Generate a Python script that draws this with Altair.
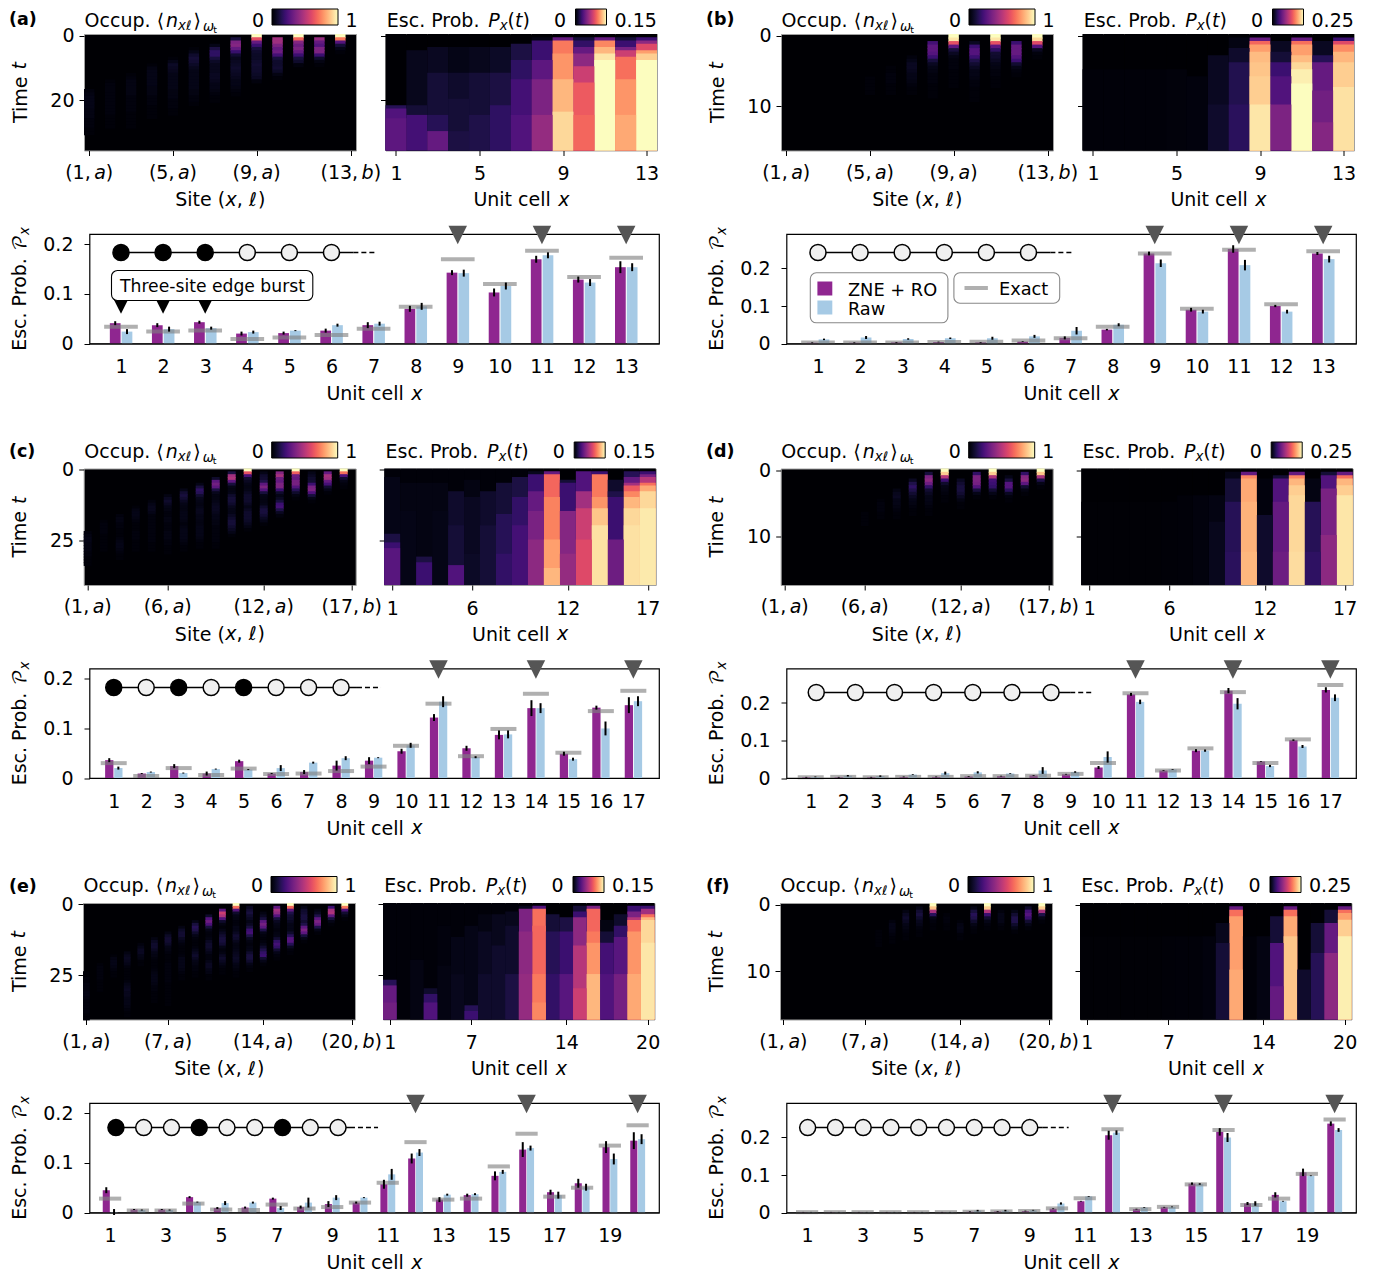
import altair as alt
import pandas as pd

FONT = "DejaVu Sans"
FS = 19
SUB = 13.3
PURPLE = "#8f2690"
BLUE = "#a6cae5"
TRI = "#555555"
HEAT_H, OCC_W, ESC_W, BAR_W, BAR_H = 116.5, 272, 271.5, 569.5, 109.5

# ---------------- bar chart values ----------------
zne_a = [.041, .037, .043, .020, .021, .026, .037, .070, .143, .103, .170, .129, .154]
raw_a = [.024, .029, .031, .023, .026, .037, .040, .075, .142, .116, .178, .123, .154]
exa_a = [.034, .024, .026, .009, .012, .017, .030, .074, .170, .120, .187, .134, .173]
ez_a = [.004, .004, .003, .004, .003, .004, .006, .006, .005, .008, .007, .006, .012]
er_a = [.005, .005, .003, .003, .001, .003, .004, .007, .007, .007, .006, .007, .008]

zne_b = [.002, .002, .003, .004, .003, .005, .015, .037, .240, .090, .252, .100, .240]
raw_b = [.011, .016, .012, .014, .014, .019, .034, .050, .214, .085, .209, .085, .225]
exa_b = [.003, .003, .003, .004, .005, .008, .014, .045, .240, .093, .250, .105, .246]
ez_b = [.001, .001, .001, .001, .001, .001, .004, .002, .005, .005, .010, .003, .004]
er_b = [.002, .004, .002, .002, .004, .004, .010, .004, .010, .005, .014, .005, .009]

zne_c = [.036, .009, .024, .009, .034, .009, .012, .025, .035, .054, .122, .060, .087, .141, .049, .142, .147]
raw_c = [.020, .012, .010, .018, .017, .020, .031, .040, .041, .066, .154, .042, .088, .141, .038, .100, .155]
exa_c = [.030, .004, .020, .006, .019, .008, .009, .014, .023, .065, .150, .044, .099, .170, .051, .135, .176]
ez_c = [.004, .001, .004, .004, .003, .001, .004, .010, .007, .005, .007, .005, .009, .016, .004, .004, .016]
er_c = [.003, .001, .001, .001, .001, .006, .002, .004, .001, .005, .011, .002, .008, .010, .003, .014, .010]

zne_d = [.002, .002, .002, .003, .003, .004, .005, .007, .010, .028, .223, .020, .073, .233, .044, .101, .235]
raw_d = [.003, .006, .005, .009, .013, .015, .012, .020, .016, .056, .203, .023, .073, .198, .032, .084, .214]
exa_d = [.002, .003, .002, .003, .003, .005, .005, .006, .011, .040, .226, .020, .079, .229, .040, .103, .248]
ez_d = [.001, .001, .001, .001, .001, .001, .001, .001, .001, .004, .004, .001, .004, .007, .001, .002, .007]
er_d = [.001, .002, .002, .001, .004, .003, .001, .009, .002, .015, .006, .001, .003, .015, .003, .004, .009]

zne_e = [.045, .006, .006, .031, .009, .010, .028, .011, .017, .020, .057, .109, .026, .035, .074, .127, .041, .059, .132, .145]
raw_e = [.001, .005, .005, .021, .019, .020, .009, .020, .030, .030, .077, .121, .036, .037, .082, .130, .035, .051, .108, .148]
exa_e = [.028, .004, .004, .018, .006, .005, .016, .008, .011, .020, .060, .142, .026, .028, .093, .159, .032, .050, .135, .176]
ez_e = [.006, .001, .001, .002, .002, .002, .002, .003, .006, .002, .009, .010, .005, .003, .009, .015, .005, .009, .012, .017]
er_e = [.006, .001, .001, .001, .004, .002, .004, .010, .005, .001, .011, .007, .002, .002, .004, .005, .007, .007, .011, .010]

zne_f = [.001, .001, .001, .001, .001, .001, .002, .003, .004, .010, .030, .206, .009, .014, .077, .215, .024, .047, .107, .237]
raw_f = [.001, .001, .001, .001, .001, .001, .005, .005, .006, .024, .043, .213, .013, .015, .076, .200, .024, .030, .098, .220]
exa_f = [.001, .001, .001, .001, .001, .001, .002, .003, .004, .011, .038, .222, .009, .015, .075, .220, .020, .037, .103, .248]
ez_f = [.0005, .0005, .0005, .0005, .0005, .0005, .001, .001, .001, .001, .001, .012, .001, .001, .003, .010, .004, .007, .010, .006]
er_f = [.0005, .0005, .0005, .0005, .0005, .0005, .002, .002, .001, .003, .001, .006, .001, .001, .002, .012, .006, .001, .001, .005]

# ---------------- occupation heatmaps: cell -> (first row, percent values) ----------------
occ_a = {1: (17, [2, 3, 4, 4, 4, 4, 3, 3, 3, 2, 2, 2, 1, 1]), 2: (14, [1, 2, 2, 2, 2, 2, 2, 2, 2, 2, 2, 1, 1, 1, 1]),
         3: (12, [1, 2, 3, 3, 3, 3, 3, 2, 2, 2, 2, 2, 1, 1, 1, 1, 1]), 4: (9, [1, 3, 4, 4, 4, 4, 4, 3, 3, 3, 2, 2, 2, 1, 1, 1, 1]),
         5: (7, [1, 4, 7, 6, 5, 4, 4, 4, 4, 4, 3, 3, 3, 2, 2, 2, 1, 1]), 6: (4, [1, 4, 8, 10, 9, 7, 5, 4, 4, 4, 4, 4, 4, 3, 3, 2, 2, 1]),
         7: (3, [4, 12, 17, 17, 11, 7, 5, 5, 5, 6, 6, 5, 4, 4, 3, 2, 1, 1]), 8: (1, [11, 36, 38, 30, 19, 9, 5, 6, 7, 8, 7, 6, 5, 4, 4, 3, 2, 1]),
         9: (0, [100, 62, 30, 20, 11, 8, 7, 7, 8, 9, 8, 8, 7, 6, 2]), 10: (1, [45, 44, 36, 30, 32, 22, 11, 8, 8, 9, 7, 3, 1]),
         11: (0, [100, 68, 38, 32, 36, 30, 20, 11, 8, 2]), 12: (1, [42, 30, 26, 36, 36, 20, 8, 3, 1]), 13: (0, [100, 72, 26, 10, 4, 1])}
occ_b = {5: (12, [1, 1, 1, 1, 1]), 6: (9, [1, 1, 2, 2, 2, 1, 1, 1]), 7: (6, [2, 4, 6, 6, 5, 4, 4, 3, 2, 1, 1]),
         8: (2, [22, 28, 28, 26, 20, 11, 6, 4, 3, 2, 2, 2, 1, 1, 1, 1]), 9: (0, [100, 95, 62, 28, 11, 6, 3, 2, 2, 2, 1, 1, 1, 1, 1]),
         10: (2, [6, 20, 26, 26, 20, 13, 9, 6, 4, 4, 3, 2, 2, 1, 1, 1, 1]), 11: (0, [100, 95, 62, 28, 17, 9, 8, 6, 4, 3, 2, 2, 1, 1, 1]),
         12: (2, [20, 30, 30, 30, 26, 20, 9, 4, 2, 1]), 13: (0, [100, 92, 60, 26, 6, 2, 1])}
occ_c = {1: (22, [2, 3, 4, 4, 3, 3, 3, 2, 2, 1, 1, 1]), 2: (18, [1, 2, 2, 2, 2, 1, 1, 1, 1, 1, 1]),
         3: (16, [2, 3, 3, 2, 2, 1, 1, 1, 2, 3, 4, 4, 3, 2, 1, 1]), 4: (13, [1, 3, 4, 4, 3, 2, 1, 1, 1, 2, 2, 2, 1, 1, 1, 1]),
         5: (11, [2, 4, 5, 5, 4, 2, 2, 2, 2, 2, 2, 2, 2, 2, 2, 1, 1, 1]), 6: (9, [3, 6, 8, 6, 4, 3, 2, 2, 3, 3, 2, 2, 2, 3, 3, 3, 2, 2, 1, 1, 1]),
         7: (7, [4, 9, 11, 9, 6, 4, 3, 3, 4, 4, 4, 3, 2, 3, 4, 4, 4, 4, 3, 2, 1, 1]), 8: (5, [4, 11, 17, 15, 9, 5, 4, 3, 4, 5, 5, 4, 4, 3, 3, 4, 4, 4, 4, 3, 2, 1, 1]),
         9: (3, [8, 28, 33, 28, 12, 5, 3, 3, 4, 5, 6, 6, 5, 4, 4, 3, 3, 2, 2, 2, 2, 2, 2, 1, 1]),
         10: (1, [12, 45, 48, 28, 11, 4, 3, 4, 8, 10, 10, 8, 5, 4, 4, 6, 8, 10, 10, 8, 6, 4, 1]),
         11: (0, [100, 62, 23, 9, 6, 4, 3, 4, 6, 8, 8, 8, 6, 4, 6, 8, 8, 8, 7, 5, 3, 1]),
         12: (1, [4, 8, 9, 13, 28, 36, 26, 11, 4, 3, 3, 4, 8, 11, 11, 9, 6, 4, 1]), 13: (1, [38, 46, 32, 30, 36, 36, 20, 8, 4, 6, 11, 20, 22, 13, 6, 2]),
         14: (0, [100, 66, 32, 30, 34, 34, 26, 15, 8, 3, 1]), 15: (1, [4, 6, 8, 9, 20, 34, 36, 24, 11, 4, 1]),
         16: (1, [30, 46, 44, 30, 22, 9, 4, 1]), 17: (0, [100, 70, 24, 9, 4, 2, 1])}
occ_d = {6: (13, [1, 1, 1, 1]), 7: (9, [1, 2, 2, 2, 1, 1]), 8: (6, [3, 5, 6, 4, 4, 3, 2, 1, 1]), 9: (3, [6, 13, 17, 13, 9, 6, 4, 3, 2, 1, 1]),
         10: (1, [11, 36, 40, 32, 18, 9, 6, 4, 4, 3, 2, 1, 1]), 11: (0, [100, 90, 50, 20, 8, 4, 3, 2, 1, 1]),
         12: (3, [6, 9, 11, 11, 9, 6, 3, 1, 1]), 13: (1, [18, 36, 36, 34, 26, 11, 4, 1]), 14: (0, [100, 90, 48, 22, 20, 18, 9, 4, 1]),
         15: (2, [4, 11, 26, 26, 16, 6, 2, 1]), 16: (1, [18, 38, 40, 28, 9, 3, 1]), 17: (0, [100, 88, 46, 13, 4, 1])}
occ_e = {1: (24, [1, 1, 2, 2, 3, 3, 3, 4, 4, 3, 2, 2, 2, 2, 2, 1, 1]), 2: (21, [1, 2, 2, 2, 2, 2, 1, 1, 1, 1]), 3: (18, [1, 3, 4, 4, 3, 2, 1, 1]),
         4: (17, [3, 5, 6, 5, 4, 2, 1, 1, 1, 1, 2, 4, 5, 6, 5, 5, 4, 4, 4, 3, 2, 1, 1]), 5: (14, [2, 4, 6, 6, 4, 3, 1, 1]),
         6: (12, [3, 6, 8, 8, 6, 4, 3, 2, 1, 1, 1, 2, 3, 4, 4, 4, 3, 2, 2, 1, 1, 1, 1]),
         7: (10, [3, 7, 9, 9, 7, 4, 3, 2, 1, 1, 1, 2, 2, 2, 2, 2, 2, 2, 1, 1, 1, 1, 1, 1, 1, 1]),
         8: (8, [3, 7, 9, 9, 6, 4, 2, 1, 1, 1, 2, 4, 4, 4, 4, 3, 2, 1, 1]), 9: (6, [4, 11, 15, 13, 8, 4, 2, 1, 1, 2, 4, 6, 8, 6, 4, 3, 2, 2, 1, 1]),
         10: (4, [8, 26, 32, 24, 11, 4, 2, 2, 3, 6, 8, 8, 6, 4, 2, 2, 4, 6, 6, 4, 3, 1, 1]),
         11: (2, [28, 55, 48, 26, 8, 3, 1, 3, 6, 9, 11, 11, 9, 4, 2, 3, 6, 8, 6, 4, 2, 1, 1]),
         12: (0, [100, 70, 26, 8, 4, 3, 2, 2, 4, 4, 6, 9, 8, 5, 3, 3, 4, 5, 6, 7, 6, 4, 3, 2, 1, 1]),
         13: (1, [6, 9, 11, 8, 6, 4, 6, 11, 20, 22, 13, 6, 3, 2, 3, 4, 8, 11, 11, 8, 4, 2, 1]),
         14: (3, [3, 6, 11, 28, 34, 28, 13, 4, 2, 1, 2, 4, 8, 13, 18, 20, 9, 4, 1]),
         15: (1, [28, 45, 40, 26, 11, 6, 4, 3, 2, 3, 4, 9, 18, 22, 18, 9, 4, 2, 1]),
         16: (0, [100, 68, 28, 13, 9, 8, 6, 4, 4, 4, 8, 15, 26, 26, 15, 6, 2, 1]), 17: (1, [4, 8, 9, 11, 11, 9, 13, 28, 36, 28, 11, 4, 1]),
         18: (2, [3, 6, 13, 28, 36, 30, 13, 4, 1]), 19: (1, [20, 46, 48, 28, 11, 4, 1]), 20: (0, [100, 72, 24, 9, 4, 1])}
occ_f = {8: (8, [1, 1, 1, 1, 1]), 9: (5, [2, 4, 4, 3, 2, 1, 1]), 10: (2, [3, 6, 8, 6, 4, 3, 2, 1, 1]), 11: (1, [4, 9, 11, 8, 5, 4, 2, 1, 1]),
         12: (0, [100, 88, 46, 16, 4, 2, 1, 1]), 13: (3, [1, 2, 2, 1, 1]), 14: (5, [1, 3, 4, 3, 1, 1]), 15: (1, [4, 11, 15, 13, 8, 4, 2, 1]),
         16: (0, [100, 90, 48, 20, 9, 4, 2, 1]), 17: (2, [2, 4, 4, 4, 2, 1]), 18: (2, [4, 9, 13, 13, 8, 4, 1]),
         19: (1, [8, 22, 26, 20, 9, 4, 1]), 20: (0, [100, 90, 46, 13, 4, 1])}

# ---------------- escape-probability heatmaps: per cell, (row where level starts, level / colour max) ----------------
esc_a = [[(0, 0), (22, .15), (23, .25), (26, .28)], [(0, 0), (5, .05), (22, .1), (25, .22)], [(0, 0), (4, .06), (12, .1), (25, .15), (30, .3)],
         [(0, 0), (4, .04), (12, .08), (20, .1), (30, .12)], [(0, 0), (4, .05), (12, .1), (25, .13)], [(0, 0), (4, .07), (12, .12), (22, .17)],
         [(0, 0), (3, .12), (8, .17), (14, .22), (25, .25)], [(0, 0), (1, .03), (2, .2), (8, .28), (14, .36), (25, .42)],
         [(0, 0), (1, .3), (2, .72), (6, .78), (14, .85), (24, .92)], [(0, 0), (1, .1), (2, .18), (4, .3), (6, .4), (10, .55), (15, .65), (25, .68)],
         [(0, 0), (1, .3), (2, .75), (4, .85), (6, .95), (8, 1)], [(0, 0), (1, .1), (2, .2), (4, .35), (5, .55), (7, .7), (14, .78), (25, .82)],
         [(0, 0), (1, .2), (2, .4), (3, .6), (5, .8), (6, .9), (8, 1)]]
esc_b = [[(0, 0), (10, .01)], [(0, 0), (10, .01)], [(0, 0), (10, .01)], [(0, 0), (10, .01)], [(0, 0), (10, .015)], [(0, 0), (12, .02)],
         [(0, 0), (6, .06), (20, .08)], [(0, 0), (1, .03), (4, .08), (8, .14), (20, .16)],
         [(0, 0), (1, .3), (2, .68), (3, .8), (5, .86), (8, .88), (12, .9), (20, .95)], [(0, 0), (2, .06), (5, .1), (8, .2), (12, .25), (20, .36)],
         [(0, 0), (1, .3), (2, .7), (3, .8), (6, .86), (8, .92), (10, .97), (14, 1)], [(0, 0), (2, .06), (6, .15), (8, .3), (16, .33), (25, .38)],
         [(0, 0), (1, .2), (2, .6), (3, .76), (5, .85), (8, .9), (15, .94)]]
esc_c = [[(0, .01), (3, .04), (23, .12), (26, .2), (28, .27)], [(0, .01), (5, .03), (15, .04)], [(0, .01), (5, .03), (31, .12), (33, .2)], [(0, .01), (5, .03), (15, .04)],
         [(0, .01), (8, .08), (20, .1), (34, .25)], [(0, .01), (4, .03), (10, .06), (30, .07)], [(0, .01), (8, .08), (20, .1)],
         [(0, .01), (5, .1), (16, .15), (30, .18)], [(0, .01), (3, .12), (10, .18), (20, .22)], [(0, 0), (1, .05), (2, .2), (8, .3), (15, .35), (25, .4)],
         [(0, 0), (1, .3), (2, .68), (10, .74), (25, .8), (35, .85)], [(0, 0), (4, .1), (5, .2), (15, .38), (30, .42)],
         [(0, 0), (1, .25), (8, .45), (14, .55), (25, .6)], [(0, 0), (1, .2), (2, .72), (10, .78), (14, .88), (20, .94)],
         [(0, 0), (4, .08), (8, .13), (10, .2), (25, .32)], [(0, 0), (1, .15), (3, .3), (5, .45), (6, .65), (8, .75), (10, .85), (14, .92), (20, .94)],
         [(0, 0), (1, .2), (2, .35), (3, .5), (5, .7), (6, .82), (8, .92), (14, .96)]]
esc_d = [[(0, 0), (10, .005)], [(0, 0), (10, .005)], [(0, 0), (10, .005)], [(0, 0), (10, .005)], [(0, 0), (10, .005)], [(0, 0), (10, .008)], [(0, 0), (8, .01)],
         [(0, 0), (8, .02)], [(0, 0), (8, .03), (16, .05)], [(0, 0), (1, .04), (3, .1), (10, .15), (25, .16)],
         [(0, 0), (1, .3), (2, .75), (3, .82), (10, .84), (25, .85)], [(0, 0), (3, .02), (14, .08)], [(0, 0), (2, .1), (3, .25), (10, .3), (25, .32)],
         [(0, 0), (1, .3), (2, .75), (3, .85), (5, .9), (8, .92), (25, .93)], [(0, 0), (3, .03), (10, .15), (25, .17)],
         [(0, 0), (1, .1), (2, .25), (6, .35), (20, .4)], [(0, 0), (1, .3), (2, .7), (3, .85), (5, .9), (8, .95)]]
esc_e = [[(0, .01), (27, .15), (29, .3), (35, .33)], [(0, .01)], [(0, .01), (20, .03)], [(0, .01), (30, .08), (32, .18), (35, .25)], [(0, .01), (8, .02), (22, .03)],
         [(0, .01), (12, .04), (25, .05)], [(0, .01), (8, .04), (36, .15), (38, .2)], [(0, .01), (4, .03), (10, .06), (25, .08)],
         [(0, .01), (4, .05), (15, .08)], [(0, .01), (3, .05), (8, .08), (25, .12)], [(0, 0), (1, .05), (2, .36), (10, .4), (25, .42)],
         [(0, 0), (1, .25), (2, .7), (8, .68), (25, .72), (35, .75)], [(0, 0), (4, .1), (10, .15), (25, .18)], [(0, 0), (5, .12), (10, .2), (25, .27)],
         [(0, 0), (1, .1), (3, .2), (5, .4), (15, .5), (30, .55)], [(0, 0), (1, .35), (2, .68), (10, .72), (14, .78), (25, .85)],
         [(0, 0), (6, .03), (10, .1), (14, .22), (25, .25)], [(0, 0), (4, .08), (8, .18), (12, .27), (25, .34)],
         [(0, 0), (1, .2), (3, .35), (5, .5), (6, .7), (10, .78), (25, .82)], [(0, 0), (1, .2), (2, .45), (4, .7), (5, .85), (6, .92), (14, .95)]]
esc_f = [[(0, 0), (10, .005)], [(0, 0), (10, .005)], [(0, 0), (10, .005)], [(0, 0), (10, .005)], [(0, 0), (10, .005)], [(0, 0), (10, .005)], [(0, 0), (10, .008)],
         [(0, 0), (10, .01)], [(0, 0), (10, .01)], [(0, 0), (10, .02)], [(0, 0), (6, .05), (12, .1)], [(0, 0), (1, .3), (2, .7), (4, .8), (20, .82)],
         [(0, 0), (10, .01)], [(0, 0), (10, .03)], [(0, 0), (4, .1), (12, .25), (25, .3)], [(0, 0), (1, .3), (2, .7), (4, .82), (10, .88)],
         [(0, 0), (20, .08)], [(0, 0), (6, .1), (15, .15)], [(0, 0), (2, .1), (6, .3), (15, .4)], [(0, 0), (1, .3), (2, .7), (3, .8), (5, .9), (10, .97)]]

panels = [
    dict(tag="(a)", n=13, dt=1, rows=36, yt=[0, 20], xt=[1, 5, 9, 13], vmax=.15, vlab="0.15", ymax=.221, occ=occ_a, esc=esc_a,
         bars=(zne_a, raw_a, exa_a, ez_a, er_a), xd=[.252, 13.78], xv=list(range(1, 14)), burst=[9, 11, 13], black_tri=[1, 2, 3],
         chain=[1, 2, 3, 4, 5, 6], fills="BBBWWW", chain_end=(6.52, 7.07), chain_y=18.5, gap=29.5, lead=2, lx=-75, ty=-7.5, tagy=-9, cby=-25),
    dict(tag="(b)", n=13, dt=.5, rows=33, yt=[0, 10], xt=[1, 5, 9, 13], vmax=.25, vlab="0.25", ymax=.292, occ=occ_b, esc=esc_b,
         bars=(zne_b, raw_b, exa_b, ez_b, er_b), xd=[.252, 13.78], xv=list(range(1, 14)), burst=[9, 11, 13], black_tri=[],
         chain=[1, 2, 3, 4, 5, 6], fills="WWWWWW", chain_end=(6.52, 7.07), chain_y=18.5, gap=29.5, lead=2, lx=-75, ty=-7.5, tagy=-9, cby=-25),
    dict(tag="(c)", n=17, dt=1, rows=41, yt=[0, 25], xt=[1, 6, 12, 17], vmax=.15, vlab="0.15", ymax=.221, occ=occ_c, esc=esc_c,
         bars=(zne_c, raw_c, exa_c, ez_c, er_c), xd=[.254, 17.79], xv=list(range(1, 18)), burst=[11, 14, 17], black_tri=[],
         chain=[1, 2, 3, 4, 5, 6, 7, 8], fills="BWBWBWWW", chain_end=(8.49, 9.23), chain_y=19, gap=28.5, lead=1.7, lx=-74.7, ty=-11, tagy=-11.5, cby=-26.5),
    dict(tag="(d)", n=17, dt=.5, rows=35, yt=[0, 10], xt=[1, 6, 12, 17], vmax=.25, vlab="0.25", ymax=.292, occ=occ_d, esc=esc_d,
         bars=(zne_d, raw_d, exa_d, ez_d, er_d), xd=[.254, 17.79], xv=list(range(1, 18)), burst=[11, 14, 17], black_tri=[],
         chain=[1.17, 2.375, 3.58, 4.785, 5.99, 7.195, 8.4], fills="WWWWWWW", chain_end=(8.99, 9.72), chain_y=24, gap=28.5, lead=1.7, lx=-74.7, ty=-11, tagy=-11.5, cby=-26.5),
    dict(tag="(e)", n=20, dt=1, rows=41, yt=[0, 25], xt=[1, 7, 14, 20], vmax=.15, vlab="0.15", ymax=.221, occ=occ_e, esc=esc_e,
         bars=(zne_e, raw_e, exa_e, ez_e, er_e), xd=[.258, 20.77], xv=list(range(1, 20, 2)), burst=[12, 16, 20], black_tri=[],
         chain=[1.21, 2.21, 3.21, 4.21, 5.21, 6.21, 7.21, 8.21, 9.21], fills="BWWBWWBWW", chain_end=(9.64, 10.65), chain_y=24.6, gap=28, lead=1, lx=-74, ty=-11, tagy=-11.5, cby=-26.5),
    dict(tag="(f)", n=20, dt=.5, rows=35, yt=[0, 10], xt=[1, 7, 14, 20], vmax=.25, vlab="0.25", ymax=.292, occ=occ_f, esc=esc_f,
         bars=(zne_f, raw_f, exa_f, ez_f, er_f), xd=[.258, 20.77], xv=list(range(1, 20, 2)), burst=[12, 16, 20], black_tri=[],
         chain=[1.02, 2.02, 3.02, 4.02, 5.02, 6.02, 7.02, 8.02, 9.02], fills="WWWWWWWWW", chain_end=(9.49, 10.42), chain_y=24.6, gap=28, lead=1, lx=-74, ty=-11, tagy=-11.5, cby=-26.5),
]

EMPTY = alt.Data(values=[{}])
EM = {"(": .39, ")": .39, ",": .318, " ": .318, ".": .318, "a": .613, "b": .635, "c": .55, "e": .615, "i": .278, "l": .278, "m": .974, "n": .634,
      "o": .612, "p": .635, "r": .411, "s": .521, "t": .392, "u": .634, "x": .592, "E": .632, "O": .787, "P": .603, "S": .635, "T": .611, "U": .732,
      "⟨": .39, "⟩": .39, "ℓ": .42, "ω": .69, "𝒫": .83}


def tw(t, size):
    return sum(EM.get(c, .636) for c in t) * size


def P(t, italic=False, size=FS, shift=0.0, gap=0.0):
    return (t, italic, size, shift, gap)


def place(parts, x, y, rotated=False, center=False):
    total = sum(tw(p[0], p[2]) + p[4] for p in parts)
    pos = -total / 2 if center else 0
    out = []
    for p in parts:
        pos += p[4]
        if rotated:
            out.append((p, x + p[3], y - pos))
        else:
            out.append((p, x + pos, y + p[3]))
        pos += tw(p[0], p[2])
    return out


def piece_mark(p, px, py, rotated=False):
    kw = dict(text=p[0], font=FONT, fontSize=p[2], align="left", baseline="alphabetic", color="black")
    if p[1]:
        kw["fontStyle"] = "italic"
    if p[0] == "𝒫":
        kw["font"] = "DejaVu Math TeX Gyre"
    if rotated:
        kw["angle"] = 270
    return alt.Chart(EMPTY).mark_text(**kw).encode(x=alt.value(px), y=alt.value(py))


def rich(parts, x, y, rotated=False, center=False):
    return [piece_mark(p, px, py, rotated) for p, px, py in place(parts, x, y, rotated, center)]


def axis_title_x(parts, width, height, baseline):
    pl = place(parts, width / 2, height + baseline, center=True)
    (p0, px, _) = pl[0]
    kw = dict(title=p0[0].rstrip(), titleX=px, titleY=baseline, titleAlign="left", titleBaseline="alphabetic", titleFontSize=FS,
              titleFontWeight="normal", titleFont=FONT, titleColor="black")
    return kw, [piece_mark(p, a, b) for p, a, b in pl[1:]]


def axis_title_y(parts, x, height):
    pl = place(parts, x, height / 2, rotated=True, center=True)
    (p0, _, py) = pl[0]
    kw = dict(title=p0[0].rstrip(), titleX=x, titleY=py, titleAngle=270, titleAlign="left", titleBaseline="alphabetic", titleFontSize=FS,
              titleFontWeight="normal", titleFont=FONT, titleColor="black")
    return kw, [piece_mark(p, a, b, True) for p, a, b in pl[1:]]


def cscale(vmax):
    return alt.Scale(scheme="magma", domain=[0, vmax], clamp=True)


def cbar_legend(x, y, length):
    return alt.Legend(type="gradient", orient="none", legendX=x, legendY=y, direction="horizontal", gradientLength=length, gradientThickness=16,
                      gradientStrokeColor="black", gradientStrokeWidth=1, title=None, labelOpacity=0, labelFontSize=1, tickCount=2, padding=0)


AX = dict(labelFont=FONT, labelFontSize=FS, labelColor="black", tickColor="black", tickWidth=1, grid=False, labelOverlap=False, labelFlush=False, labelBound=False)


def plain(t, x, y, align="left", size=FS, **extra):
    return alt.Chart(EMPTY).mark_text(text=t, font=FONT, fontSize=size, align=align, baseline="alphabetic", color="black", **extra).encode(x=alt.value(x), y=alt.value(y))


def occ_panel(s):
    n, dt = s["n"], s["dt"]
    recs = []
    for cell_no, (start, vals) in s["occ"].items():
        site = 2 * (cell_no - 1)
        for i, v in enumerate(vals):
            r = start + i
            # rows overlap a little and are painted in order, so no seam shows between them
            recs.append(dict(s0=site - .5, s1=site + .5, t0=(r - .5) * dt, t1=(r + .8) * dt, v=v / 100))
    df = pd.DataFrame(recs)
    xdom = alt.Scale(domain=[-.5, 2 * n - .5], nice=False, zero=False)
    ydom = alt.Scale(domain=[-.5 * dt, (s["rows"] - .5) * dt], reverse=True, nice=False, zero=False)
    sites = [2 * (c - 1) for c in s["xt"][:-1]] + [2 * n - 1]
    xkw, xrest = axis_title_x([P("Site ("), P("x", True, gap=1), P(", "), P("ℓ", True), P(")", gap=1)], OCC_W, HEAT_H, 55)
    ykw, yrest = axis_title_y([P("Time "), P("t", True)], -58, HEAT_H)
    xax = alt.Axis(values=sites, labels=False, domain=False, tickSize=5, **AX, **xkw)
    rect = alt.Chart(df).mark_rect().encode(
        x=alt.X("s0:Q", scale=xdom, axis=xax),
        x2="s1:Q",
        y=alt.Y("t0:Q", scale=ydom, axis=alt.Axis(values=s["yt"], format="d", domain=False, tickSize=5, labelPadding=5, **AX, **ykw)),
        y2="t1:Q",
        color=alt.Color("v:Q", scale=cscale(1), legend=cbar_legend(188, s["cby"], 66)),
        order=alt.Order("t0:Q"),
    )
    layers = [rect]
    for c, site in zip(s["xt"], sites):
        letter = "b" if c == s["xt"][-1] else "a"
        left, right = f"({c},", ")"
        wl, wm, wr = tw(left, FS) + 3.5, tw(letter, FS), tw(right, FS)
        start = -(wl + wm + wr) / 2
        for t, it, d in [(left, False, start), (letter, True, start + wl), (right, False, start + wl + wm)]:
            kw = dict(text=t, font=FONT, fontSize=FS, align="left", baseline="alphabetic", color="black", dx=d)
            if it:
                kw["fontStyle"] = "italic"
            layers.append(alt.Chart(EMPTY).mark_text(**kw).encode(
                x=alt.X(datum=site, type="quantitative", scale=xdom, axis=xax), y=alt.value(HEAT_H + 28)))
    layers += xrest + yrest
    ty = s["ty"]
    layers += rich([P("Occup. "), P("⟨"), P("n", True, gap=2), P("xℓ", True, SUB, 3), P("⟩", gap=2), P("ω", True, SUB, 4, gap=2), P("t", False, 9.5, 6, gap=1)], .6, ty)
    layers += [plain("0", 174, ty, "center"), plain("1", 267.5, ty, "center"),
               plain(s["tag"], s["lx"], s["tagy"], size=17.5, fontWeight="bold")]
    return alt.layer(*layers).properties(
        width=OCC_W, height=HEAT_H, view=alt.ViewConfig(fill="#000004", stroke="#a0a0a0", strokeWidth=1))


def esc_panel(s):
    n, dt, vmax = s["n"], s["dt"], s["vmax"]
    recs = []
    for i, col in enumerate(s["esc"]):
        for r, f in col:
            # every level reaches to the column's end; the next level is painted over it
            recs.append(dict(x0=i + .5, x1=i + 1.5, t0=(r - .5) * dt, t1=(s["rows"] - .5) * dt, v=f * vmax))
    df = pd.DataFrame(recs)
    xkw, xrest = axis_title_x([P("Unit cell "), P("x", True, gap=2)], ESC_W, HEAT_H, 55)
    rect = alt.Chart(df).mark_rect().encode(
        x=alt.X("x0:Q", scale=alt.Scale(domain=[.5, n + .5], nice=False, zero=False),
                axis=alt.Axis(values=s["xt"], format="d", domain=False, tickSize=5, labelPadding=9, **AX, **xkw)),
        x2="x1:Q",
        y=alt.Y("t0:Q", scale=alt.Scale(domain=[-.5 * dt, (s["rows"] - .5) * dt], reverse=True, nice=False, zero=False),
                axis=alt.Axis(values=s["yt"], labels=False, domain=False, tickSize=5, title=None, **AX)),
        y2="t1:Q",
        color=alt.Color("v:Q", scale=cscale(vmax), legend=cbar_legend(190, s["cby"], 31)),
        order=alt.Order("t0:Q"),
    )
    layers = [rect] + xrest
    ty = s["ty"]
    layers += rich([P("Esc. Prob. "), P("P", True, gap=2), P("x", True, SUB, 3), P("("), P("t", True), P(")")], 1.3, ty)
    layers += [plain("0", 174.5, ty, "center"), plain(s["vlab"], 229, ty)]
    return alt.layer(*layers).properties(width=ESC_W, height=HEAT_H, view=alt.ViewConfig(fill="#000004", stroke="#a0a0a0", strokeWidth=1))


def box(x0, x1, y0, y1, stroke, radius=6):
    return alt.Chart(EMPTY).mark_rect(fill="white", stroke=stroke, strokeWidth=1.1, cornerRadius=radius).encode(
        x=alt.value(x0), x2=alt.value(x1), y=alt.value(y0), y2=alt.value(y1))


def bar_panel(s):
    zne, raw, exa, ez, er = s["bars"]
    xs = list(range(1, s["n"] + 1))
    df = pd.DataFrame(dict(x=xs, zne=zne, raw=raw, exa=exa, ez=ez, er=er))
    df["z0"], df["z1"] = df.x - .265, df.x - .01
    df["r0"], df["r1"] = df.x + .015, df.x + .27
    df["zc"], df["rc"] = df.x - .1375, df.x + .1425
    df["e0"], df["e1"] = df.x - .4, df.x + .4
    df["zl"], df["zh"] = df.zne - df.ez, df.zne + df.ez
    df["rl"], df["rh"] = df.raw - df.er, df.raw + df.er
    xs_ = alt.Scale(domain=s["xd"], nice=False, zero=False)
    ys_ = alt.Scale(domain=[0, s["ymax"]], nice=False)
    xkw, xrest = axis_title_x([P("Unit cell "), P("x", True, gap=2)], BAR_W, BAR_H, 56)
    ykw, yrest = axis_title_y([P("Esc. Prob. "), P("𝒫", False), P("x", True, SUB, 3)], -64, BAR_H)
    xax = alt.Axis(values=s["xv"], format="d", domain=True, domainColor="black", domainWidth=1.2, tickSize=0, labelPadding=14, zindex=1, **AX, **xkw)
    yax = alt.Axis(values=[0, .1, .2], format=".1~f", domain=False, tickSize=5.5, labelPadding=11, **AX, **ykw)

    def X(f):
        return alt.X(f, type="quantitative", scale=xs_, axis=xax)

    def Y(f):
        return alt.Y(f, type="quantitative", scale=ys_, axis=yax)

    purple = alt.Chart(df).mark_bar(color=PURPLE).encode(x=X("z0"), x2="z1", y=Y("zne"), y2=alt.datum(0))
    blue = alt.Chart(df).mark_bar(color=BLUE).encode(x=X("r0"), x2="r1", y=Y("raw"), y2=alt.datum(0))
    exact = alt.Chart(df).mark_rule(color="#808080", opacity=.62, strokeWidth=4).encode(x=X("e0"), x2="e1", y=Y("exa"))
    ez_r = alt.Chart(df).mark_rule(color="black", strokeWidth=2).encode(x=X("zc"), y=Y("zl"), y2="zh")
    er_r = alt.Chart(df).mark_rule(color="black", strokeWidth=2).encode(x=X("rc"), y=Y("rl"), y2="rh")
    layers = [purple, blue, exact, ez_r, er_r] + xrest + yrest
    tri = "M-1,-1L1,-1L0,1Z"
    layers.append(alt.Chart(pd.DataFrame(dict(x=s["burst"]))).mark_point(shape=tri, filled=True, size=342, color=TRI, opacity=1, strokeWidth=0).encode(
        x=X("x"), y=alt.value(1)))
    if s["black_tri"]:
        layers.append(alt.Chart(pd.DataFrame(dict(x=s["black_tri"]))).mark_point(shape=tri, filled=True, size=310, color="black", opacity=1, strokeWidth=0).encode(
            x=X("x"), y=alt.value(71)))
        layers.append(box(22, 223.3, 36.5, 66.5, "black"))
        layers.append(plain("Three-site edge burst", 30.5, 58, size=17.2))
    ch = s["chain"]
    cy = s["chain_y"]
    end_solid, end_dash = s["chain_end"]
    line = pd.DataFrame(dict(a=[ch[0]], b=[end_solid]))
    dash = pd.DataFrame(dict(a=[end_solid], b=[end_dash]))
    layers.append(alt.Chart(line).mark_rule(color="black", strokeWidth=1.5).encode(x=X("a"), x2="b", y=alt.value(cy)))
    layers.append(alt.Chart(dash).mark_rule(color="black", strokeWidth=1.5, strokeDash=[5, 3]).encode(x=X("a"), x2="b", y=alt.value(cy)))
    nodes = pd.DataFrame(dict(x=ch, c=["black" if f == "B" else "#f0f0f0" for f in s["fills"]]))
    layers.append(alt.Chart(nodes).mark_point(shape="circle", filled=True, size=256, stroke="black", strokeWidth=1.5, opacity=1).encode(
        x=X("x"), y=alt.value(cy), fill=alt.Fill("c:N", scale=None)))
    if s["tag"] == "(b)":
        layers += [box(23.8, 161.4, 38.8, 88.8, "#888888"), box(167.4, 273.2, 38.8, 69.2, "#888888"),
                   alt.Chart(EMPTY).mark_rect(fill=PURPLE).encode(x=alt.value(30.9), x2=alt.value(45.8), y=alt.value(47.5), y2=alt.value(61.5)),
                   alt.Chart(EMPTY).mark_rect(fill=BLUE).encode(x=alt.value(30.9), x2=alt.value(45.8), y=alt.value(66.5), y2=alt.value(80.5)),
                   alt.Chart(EMPTY).mark_rule(color="#808080", opacity=.62, strokeWidth=4).encode(x=alt.value(178), x2=alt.value(201.4), y=alt.value(54)),
                   plain("ZNE + RO", 61.4, 62, size=17.8), plain("Raw", 61.4, 80.5, size=17.8), plain("Exact", 212.4, 61, size=17.8)]
    return alt.layer(*layers).properties(width=BAR_W, height=BAR_H, view=alt.ViewConfig(fill="white", stroke="black", strokeWidth=1.2))


def spacer():
    return alt.Chart(EMPTY).mark_point(opacity=0).encode(x=alt.value(0), y=alt.value(0)).properties(
        width=1, height=1, view=alt.ViewConfig(stroke="transparent"))


def indep(c):
    return c.resolve_scale(color="independent").resolve_legend(color="independent")


def cell(s):
    pair = indep(alt.hconcat(occ_panel(s), esc_panel(s), spacing=s["gap"], bounds="flush"))
    top = indep(alt.hconcat(spacer(), pair, spacing=s["lead"] - 1, bounds="flush"))
    bottom = alt.hconcat(spacer(), bar_panel(s), spacing=6.5, bounds="flush")
    return indep(alt.vconcat(top, bottom, spacing=200, bounds="flush"))


rows = [indep(alt.hconcat(cell(panels[i]), cell(panels[i + 1]), spacing=697, bounds="flush")) for i in (0, 2, 4)]
chart = indep(alt.vconcat(*rows, spacing=434.5, bounds="flush")).properties(padding=0, background="white")
chart.save("out.html", embed_options={"renderer": "svg", "actions": False})
